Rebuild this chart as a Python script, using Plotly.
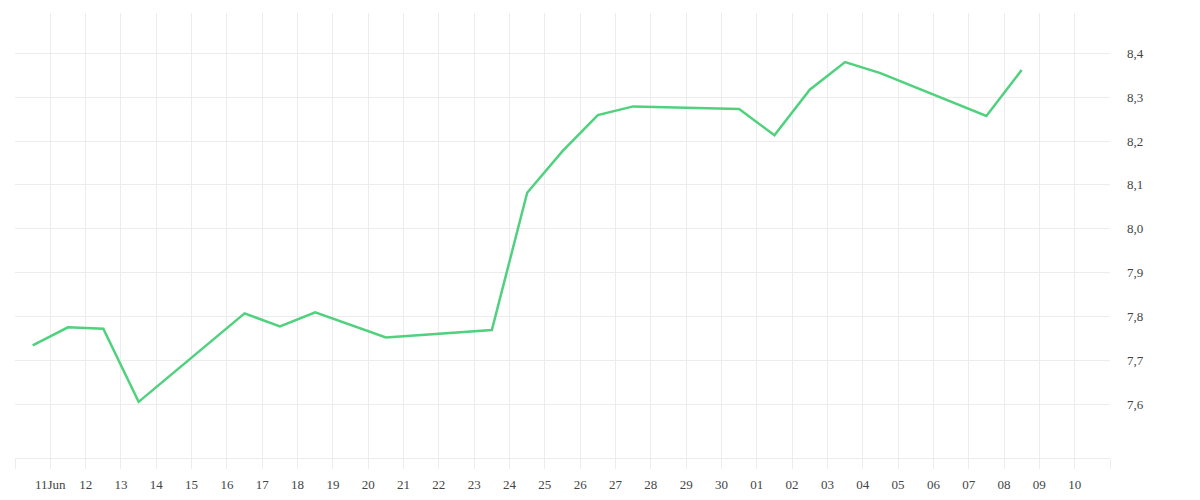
import plotly.graph_objects as go

dates = ["2019-06-10 12:00", "2019-06-11 12:00", "2019-06-12 12:00", "2019-06-13 12:00",
         "2019-06-16 12:00", "2019-06-17 12:00", "2019-06-18 12:00", "2019-06-20 12:00",
         "2019-06-23 12:00", "2019-06-24 12:00", "2019-06-25 12:00", "2019-06-26 12:00",
         "2019-06-27 12:00", "2019-06-30 12:00", "2019-07-01 12:00", "2019-07-02 12:00",
         "2019-07-03 12:00", "2019-07-04 12:00", "2019-07-07 12:00", "2019-07-08 12:00"]
values = [7.734, 7.775, 7.772, 7.605, 7.807, 7.777, 7.809, 7.752, 7.769, 8.082,
          8.177, 8.259, 8.279, 8.273, 8.213, 8.317, 8.380, 8.355, 8.257, 8.362]

tick_dates = ["2019-06-%02d" % d for d in range(10, 31)] + ["2019-07-%02d" % d for d in range(1, 12)]
tick_labels = [""] + ["11Jun"] + ["%02d" % d for d in range(12, 31)] + ["%02d" % d for d in range(1, 11)] + [""]

y_ticks = [7.6, 7.7, 7.8, 7.9, 8.0, 8.1, 8.2, 8.3, 8.4]

grid = "#ececec"
fig = go.Figure()
fig.add_trace(go.Scatter(x=dates, y=values, mode="lines",
                         line=dict(color="#4fd17e", width=2.5), hoverinfo="x+y"))

fig.update_layout(
    width=1200, height=500,
    margin=dict(l=7, r=98, t=5, b=50),
    paper_bgcolor="white", plot_bgcolor="white",
    separators=",.",
    showlegend=False,
    font=dict(family="Liberation Serif", size=13, color="#444444"),
)
fig.update_xaxes(
    type="date",
    range=["2019-06-10", "2019-07-11"],
    tickmode="array", tickvals=tick_dates, ticktext=tick_labels,
    showgrid=True, gridcolor=grid, gridwidth=1,
    ticks="outside", ticklen=10, tickcolor=grid, tickwidth=1,
    showline=True, linecolor=grid, linewidth=1,
    zeroline=False,
    ticklabelstandoff=4,
)
fig.update_yaxes(
    side="right",
    range=[7.477, 8.492],
    tickmode="array", tickvals=y_ticks, tickformat=".1f",
    showgrid=True, gridcolor=grid, gridwidth=1,
    ticks="", showline=False, zeroline=False,
    ticklabelstandoff=16,
)

fig.write_html("out.html")
